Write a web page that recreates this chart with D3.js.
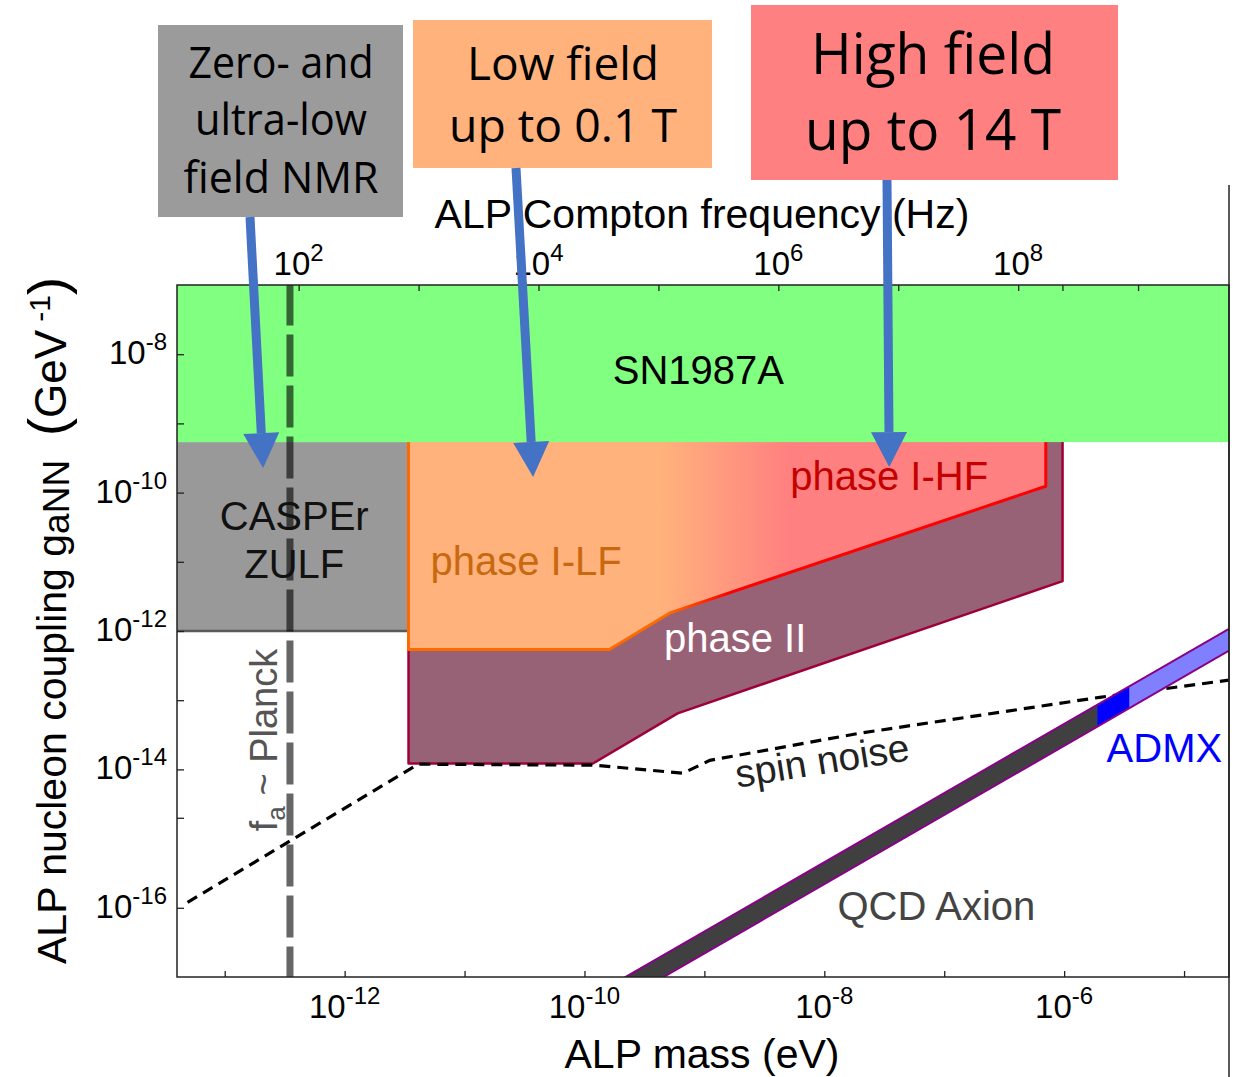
<!DOCTYPE html>
<html lang="en">
<head>
<meta charset="UTF-8">
<title>ALP nucleon coupling</title>
<script src="https://d3js.org/d3.v7.min.js"></script>
<style>
  body { margin: 0; background: #fff; }
  svg { display: block; font-family: "Liberation Sans", Arial, sans-serif; }
  .tick line { stroke: #222; stroke-width: 1.3px; }
  .box text { font-family: "Open Sans", "Noto Sans", sans-serif; }
</style>
</head>
<body>
<svg id="chart" width="1243" height="1077"></svg>
<script>
// ---- data ----
const massTicks      = [1e-12, 1e-10, 1e-8, 1e-6];
const massMinorTicks = [1e-13, 1e-11, 1e-9, 1e-7, 1e-5];
const freqTicks      = [1e2, 1e3, 1e4, 1e5, 1e6, 1e7, 1e8, 2.34e8, 1e9];
const freqLabels     = [1e2, 1e4, 1e6, 1e8];
const gTicks         = [1e-8, 1e-10, 1e-12, 1e-14, 1e-16];
const gMinorTicks    = [1e-9, 1e-11, 1e-13, 2e-15];

const massDomain = [4.0e-14, 2.37e-5];   // eV
const gDomain    = [1e-17, 1e-7];        // GeV^-1

const snLimit = 5.37e-10;                // SN1987A lower edge
const casperMassMax = 3.41e-12;
const casperG = 1e-12;

const phase2Mass = [3.41e-12, 3.41e-12, 1.175e-10, 5.98e-10, 9.7e-7, 9.7e-7];
const phase2G    = [snLimit, 1.216e-14, 1.216e-14, 6.46e-14, 5.25e-12, snLimit];

const phase1Mass = [3.41e-12, 3.41e-12, 1.614e-10, 5.18e-10, 7.03e-7, 7.03e-7];
const phase1G    = [snLimit, 5.41e-13, 5.41e-13, 1.83e-12, 1.236e-10, snLimit];

const spinMass = [4.9e-14, 4.11e-12, 1.22e-10, 6.64e-10, 1.11e-9, 1.97e-8, 1.98e-6, 2.37e-5];
const spinG    = [1.2e-16, 1.19e-14, 1.15e-14, 8.8e-15, 1.35e-14, 3.33e-14, 1.1e-13, 1.95e-13];

const planckMass = 3.5e-13;

const qcdMass  = [1e-10, 2.37e-5];
const qcdUpper = [4.55e-18, 1.078e-12];
const qcdLower = [2.19e-18, 5.19e-13];
const admxMass = [1.90e-6, 3.52e-6];

const HZ_PER_EV = 2.418e14;

// ---- layout ----
const plot = {left: 177, right: 1229, top: 285, bottom: 977};
const svg = d3.select("#chart");

const x  = d3.scaleLog().domain(massDomain).range([plot.left, plot.right]);
const xf = d3.scaleLog().domain(massDomain.map(m => m * HZ_PER_EV)).range([plot.left, plot.right]);
const y  = d3.scaleLog().domain(gDomain).range([plot.bottom, plot.top]);

const exp10 = v => String(Math.round(Math.log10(v)));
const pts = (ms, gs) => ms.map((m, i) => [x(m), y(gs[i])]);
const line = d3.line();

function logInterp(ms, gs, m) {
  const t = (Math.log10(m) - Math.log10(ms[0])) / (Math.log10(ms[1]) - Math.log10(ms[0]));
  return Math.pow(10, Math.log10(gs[0]) + t * (Math.log10(gs[1]) - Math.log10(gs[0])));
}

const defs = svg.append("defs");
defs.append("clipPath").attr("id", "clip")
  .append("rect").attr("x", plot.left).attr("y", plot.top)
  .attr("width", plot.right - plot.left).attr("height", plot.bottom - plot.top);

const gradFill = defs.append("linearGradient").attr("id", "p1fill")
  .attr("gradientUnits", "userSpaceOnUse")
  .attr("x1", x(4.3e-10)).attr("x2", x(5.1e-9)).attr("y1", 0).attr("y2", 0);
gradFill.append("stop").attr("offset", 0).attr("stop-color", "#ffb27c");
gradFill.append("stop").attr("offset", 1).attr("stop-color", "#ff8080");

const gradStroke = defs.append("linearGradient").attr("id", "p1stroke")
  .attr("gradientUnits", "userSpaceOnUse")
  .attr("x1", x(5.0e-10)).attr("x2", x(1.6e-9)).attr("y1", 0).attr("y2", 0);
gradStroke.append("stop").attr("offset", 0).attr("stop-color", "#ff6a00");
gradStroke.append("stop").attr("offset", 1).attr("stop-color", "#ff0000");

const g = svg.append("g").attr("clip-path", "url(#clip)");

// CASPEr ZULF
g.append("rect")
  .attr("x", x(massDomain[0])).attr("y", y(snLimit))
  .attr("width", x(casperMassMax) - x(massDomain[0]))
  .attr("height", y(casperG) - y(snLimit))
  .attr("fill", "#999999");
g.append("path")
  .attr("d", line([[x(massDomain[0]), y(casperG)], [x(casperMassMax), y(casperG)], [x(casperMassMax), y(snLimit)]]))
  .attr("fill", "none").attr("stroke", "#5a5a5a").attr("stroke-width", 2.5);

// phase II
g.append("path").attr("d", line(pts(phase2Mass, phase2G)) + "Z").attr("fill", "#986276");
g.append("path").attr("d", line(pts(phase2Mass, phase2G)))
  .attr("fill", "none").attr("stroke", "#a0003a").attr("stroke-width", 2.5).attr("stroke-linejoin", "round");

// phase I (LF -> HF)
g.append("path").attr("d", line(pts(phase1Mass, phase1G)) + "Z").attr("fill", "url(#p1fill)");
g.append("path").attr("d", line(pts(phase1Mass, phase1G)))
  .attr("fill", "none").attr("stroke", "url(#p1stroke)").attr("stroke-width", 3).attr("stroke-linejoin", "round");

// SN1987A
g.append("rect")
  .attr("x", plot.left).attr("y", y(gDomain[1]))
  .attr("width", plot.right - plot.left).attr("height", y(snLimit) - y(gDomain[1]))
  .attr("fill", "#80ff80");

// spin noise
g.append("path").attr("d", line(pts(spinMass, spinG)))
  .attr("fill", "none").attr("stroke", "#000").attr("stroke-width", 3.2)
  .attr("stroke-dasharray", "11,7");

// QCD axion band
const bandSegs = [
  {m0: qcdMass[0], m1: admxMass[0], fill: "#404040"},
  {m0: admxMass[0], m1: admxMass[1], fill: "#0000ff"},
  {m0: admxMass[1], m1: qcdMass[1], fill: "#8080ff"}
];
bandSegs.forEach(s => {
  const poly = [
    [x(s.m0), y(logInterp(qcdMass, qcdUpper, s.m0))],
    [x(s.m1), y(logInterp(qcdMass, qcdUpper, s.m1))],
    [x(s.m1), y(logInterp(qcdMass, qcdLower, s.m1))],
    [x(s.m0), y(logInterp(qcdMass, qcdLower, s.m0))]
  ];
  g.append("path").attr("d", line(poly) + "Z").attr("fill", s.fill)
    .attr("stroke", s.fill).attr("stroke-width", 0.6);
});
[qcdUpper, qcdLower].forEach(edge => {
  g.append("path").attr("d", line(pts(qcdMass, edge)))
    .attr("fill", "none").attr("stroke", "#8a008a").attr("stroke-width", 2);
});

// f_a ~ Planck
g.append("line")
  .attr("x1", x(planckMass)).attr("x2", x(planckMass))
  .attr("y1", plot.top).attr("y2", plot.bottom)
  .attr("stroke", "#000").attr("stroke-opacity", 0.6).attr("stroke-width", 7)
  .attr("stroke-dasharray", "42,9").attr("stroke-dashoffset", 1.5);

// ---- labels inside plot ----
const labels = [
  {t: "SN1987A",    m: 8.9e-10, g: 3.7e-9,   anchor: "middle", fill: "#000"},
  {t: "CASPEr",     m: 3.8e-13, g: 2.9e-11,  anchor: "middle", fill: "#111"},
  {t: "ZULF",       m: 3.8e-13, g: 5.8e-12,  anchor: "middle", fill: "#111"},
  {t: "phase I-LF", m: 5.2e-12, g: 6.45e-12, anchor: "start",  fill: "#c8690f"},
  {t: "phase I-HF", m: 5.2e-9,  g: 1.09e-10, anchor: "start",  fill: "#c40000"},
  {t: "phase II",   m: 4.6e-10, g: 5.0e-13,  anchor: "start",  fill: "#ffffff"},
  {t: "QCD Axion",  m: 8.6e-8,  g: 6.7e-17,  anchor: "middle", fill: "#444"},
  {t: "ADMX",       m: 2.08e-5, g: 1.29e-14, anchor: "end",    fill: "#0000ff"}
];
svg.append("g").selectAll("text").data(labels).join("text")
  .attr("x", d => x(d.m)).attr("y", d => y(d.g))
  .attr("text-anchor", d => d.anchor).attr("fill", d => d.fill)
  .attr("font-size", 40).text(d => d.t);

svg.append("text")
  .attr("transform", `translate(${x(1.0e-8)},${y(8.6e-15)}) rotate(-9)`)
  .attr("text-anchor", "middle").attr("font-size", 39).attr("fill", "#222")
  .text("spin noise");

const planckLabel = svg.append("text")
  .attr("transform", `translate(${x(2.74e-13)},${y(2.66e-14)}) rotate(-90)`)
  .attr("text-anchor", "middle").attr("font-size", 38).attr("fill", "#555");
planckLabel.append("tspan").text("f");
planckLabel.append("tspan").attr("font-size", 26).attr("dy", 8).text("a");
planckLabel.append("tspan").attr("dy", -8).text(" ~ Planck");

// ---- axes ----
const axG = svg.append("g");
axG.append("g").attr("transform", `translate(0,${plot.bottom})`)
  .call(d3.axisBottom(x).tickValues(massTicks.concat(massMinorTicks)).tickSize(-6).tickFormat(""))
  .call(a => a.select(".domain").remove());
axG.append("g").attr("transform", `translate(0,${plot.top})`)
  .call(d3.axisTop(xf).tickValues(freqTicks).tickSize(-6).tickFormat(""))
  .call(a => a.select(".domain").remove());
axG.append("g").attr("transform", `translate(${plot.left},0)`)
  .call(d3.axisLeft(y).tickValues(gTicks.concat(gMinorTicks)).tickSize(-7).tickFormat(""))
  .call(a => a.select(".domain").remove());

axG.append("rect")
  .attr("x", plot.left).attr("y", plot.top)
  .attr("width", plot.right - plot.left).attr("height", plot.bottom - plot.top)
  .attr("fill", "none").attr("stroke", "#222").attr("stroke-width", 1.5);
axG.append("line")
  .attr("x1", plot.right).attr("x2", plot.right).attr("y1", 185).attr("y2", 1077)
  .attr("stroke", "#222").attr("stroke-width", 1.5);

function powLabel(sel, v) {
  sel.append("tspan").text("10");
  sel.append("tspan").attr("font-size", 24).attr("dy", -14).text(exp10(v));
}
massTicks.forEach(v => {
  svg.append("text").attr("x", x(v)).attr("y", 1018).attr("text-anchor", "middle")
    .attr("font-size", 33).call(powLabel, v);
});
freqLabels.forEach(v => {
  svg.append("text").attr("x", xf(v)).attr("y", 275).attr("text-anchor", "middle")
    .attr("font-size", 33).call(powLabel, v);
});
gTicks.forEach(v => {
  svg.append("text").attr("x", 167).attr("y", y(v) + 10).attr("text-anchor", "end")
    .attr("font-size", 33).call(powLabel, v);
});

// axis titles
svg.append("text").attr("x", 702).attr("y", 1068).attr("text-anchor", "middle")
  .attr("font-size", 41).text("ALP mass (eV)");
svg.append("text").attr("x", 702).attr("y", 228).attr("text-anchor", "middle")
  .attr("font-size", 41).text("ALP Compton frequency (Hz)");

const yTitle = svg.append("text")
  .attr("transform", "translate(66,964) rotate(-90)")
  .attr("text-anchor", "start").attr("font-size", 41);
yTitle.append("tspan").text("ALP nucleon coupling g");
yTitle.append("tspan").attr("font-size", 37).attr("dy", 3).text("aNN");

const yUnit = svg.append("text")
  .attr("transform", "translate(66,277) rotate(-90)")
  .attr("text-anchor", "end").attr("font-size", 44);
yUnit.append("tspan").attr("font-size", 54).text("(");
yUnit.append("tspan").text("GeV");
yUnit.append("tspan").attr("font-size", 30).attr("dy", -16).text(" -1");
yUnit.append("tspan").attr("font-size", 54).attr("dy", 16).text(")");

// ---- annotation boxes ----
const boxes = [
  {x: 158, y: 25, w: 245, h: 192, fill: "#9b9b9b", size: 43,
   lines: [["Zero- and", 78, 185], ["ultra-low", 135, 172], ["field NMR", 193, 195]], cx: 281},
  {x: 413, y: 20, w: 299, h: 148, fill: "#ffb27c", size: 45,
   lines: [["Low field", 80, 192], ["up to 0.1 T", 142, 228]], cx: 563},
  {x: 751, y: 5, w: 367, h: 175, fill: "#ff8080", size: 57,
   lines: [["High field", 74, 244], ["up to 14 T", 150, 256]], cx: 933}
];
const bx = svg.append("g").attr("class", "box");
boxes.forEach(b => {
  bx.append("rect").attr("x", b.x).attr("y", b.y).attr("width", b.w).attr("height", b.h).attr("fill", b.fill);
  b.lines.forEach(([t, by, len]) => {
    bx.append("text").attr("x", b.cx).attr("y", by).attr("text-anchor", "middle")
      .attr("font-size", b.size).attr("fill", "#000")
      .attr("textLength", len).attr("lengthAdjust", "spacingAndGlyphs").text(t);
  });
});

// ---- arrows ----
const arrows = [
  {x0: 250, y0: 217, m: 2.09e-13, g: 2.26e-10},
  {x0: 516, y0: 168, m: 3.73e-11, g: 1.68e-10},
  {x0: 887, y0: 180, m: 3.48e-8,  g: 2.34e-10}
];
const arrowG = svg.append("g");
arrows.forEach(a => {
  const x1 = x(a.m), y1 = y(a.g);
  const dx = x1 - a.x0, dy = y1 - a.y0, len = Math.hypot(dx, dy);
  const ux = dx / len, uy = dy / len;
  const headL = 35, headW = 18;
  const bxp = x1 - ux * headL, byp = y1 - uy * headL;
  arrowG.append("line").attr("x1", a.x0).attr("y1", a.y0).attr("x2", bxp).attr("y2", byp)
    .attr("stroke", "#4472c4").attr("stroke-width", 9);
  arrowG.append("path")
    .attr("d", line([[x1, y1], [bxp - uy * headW, byp + ux * headW], [bxp + uy * headW, byp - ux * headW]]) + "Z")
    .attr("fill", "#4472c4");
});
</script>
</body>
</html>
